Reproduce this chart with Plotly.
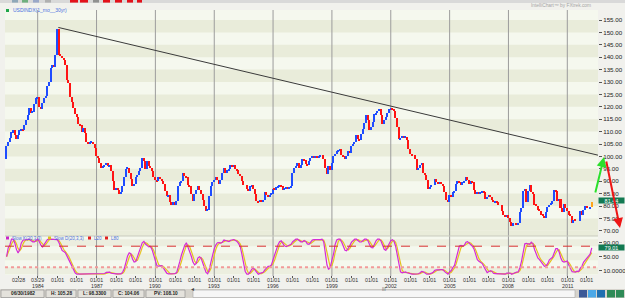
import plotly.graph_objects as go
import pandas as pd
import numpy as np
from datetime import datetime

W, H = 625, 298

# ---------------- data ----------------
title_text = "USDINDX(1_mo__30yr)"
first_open = 99.0
closes_1982 = [104.06, 106.0, 107.5, 109.8, 110.6, 108.5, 107.0]
closes_1983 = [108.5, 110.5, 111.0, 110.5, 112.5, 114.5, 116.5, 119.5, 117.5, 118.0, 121.0, 123.5]
closes_1984 = [124.0, 120.0, 119.0, 121.5, 123.5, 124.5, 128.5, 130.0, 135.5, 137.0, 136.0, 141.0]
closes_1985 = [151.5, 141.0, 140.5, 139.5, 139.0, 137.0, 131.0, 129.5, 124.0, 122.0, 119.5, 117.0]
closes_1986 = [116.0, 113.0, 112.5, 110.0, 111.5, 109.5, 106.0, 105.0, 105.5, 106.0, 105.0, 103.5]
closes_1987 = [100.0, 99.5, 97.5, 95.5, 96.0, 96.5, 97.5, 96.0, 96.5, 94.0, 90.0, 86.5]
closes_1988 = [87.0, 86.5, 85.0, 85.5, 88.0, 91.5, 95.0, 95.5, 93.5, 91.0, 88.0, 89.0]
closes_1989 = [91.5, 92.5, 94.0, 95.5, 99.5, 98.0, 95.0, 98.0, 96.0, 95.5, 94.0, 91.5]
closes_1990 = [90.5, 90.0, 91.5, 91.0, 90.0, 89.0, 86.0, 84.0, 84.5, 81.5, 80.5, 81.5]
closes_1991 = [80.5, 82.0, 88.0, 89.5, 90.0, 93.5, 92.0, 91.5, 88.5, 88.0, 85.0, 82.0]
closes_1992 = [85.0, 86.5, 88.0, 86.5, 85.0, 82.5, 80.0, 78.0, 78.5, 84.0, 88.0, 89.5]
closes_1993 = [90.5, 91.5, 90.5, 89.0, 90.5, 93.5, 95.5, 93.5, 94.5, 95.0, 96.5, 96.0]
closes_1994 = [96.5, 95.0, 94.5, 93.0, 92.0, 90.0, 88.5, 88.5, 87.0, 86.0, 88.0, 88.5]
closes_1995 = [87.0, 85.0, 82.0, 81.5, 82.5, 82.0, 82.5, 85.5, 84.5, 84.0, 84.5, 85.0]
closes_1996 = [87.0, 86.5, 87.5, 88.0, 88.5, 88.0, 86.5, 87.0, 87.5, 87.0, 87.5, 88.0]
closes_1997 = [93.5, 95.5, 96.0, 97.5, 95.5, 96.5, 99.0, 98.5, 97.0, 96.5, 98.0, 99.5]
closes_1998 = [100.0, 99.5, 100.0, 99.5, 100.0, 100.5, 100.5, 99.0, 95.5, 93.0, 96.0, 94.5]
closes_1999 = [97.5, 100.0, 101.0, 102.0, 102.5, 103.0, 100.5, 100.0, 99.0, 100.0, 102.0, 101.5]
closes_2000 = [104.0, 105.0, 106.0, 108.5, 107.0, 106.5, 109.0, 111.0, 113.5, 116.5, 114.5, 110.5]
closes_2001 = [112.0, 114.0, 117.0, 117.5, 118.5, 119.0, 116.5, 113.0, 114.5, 116.0, 117.5, 119.0]
closes_2002 = [119.5, 119.0, 118.5, 115.5, 112.0, 107.0, 107.5, 108.0, 107.5, 108.0, 106.5, 103.0]
closes_2003 = [101.0, 100.5, 100.5, 99.0, 94.5, 95.5, 96.5, 97.5, 93.5, 92.5, 90.5, 87.0]
closes_2004 = [87.5, 88.5, 88.5, 91.0, 89.5, 89.0, 89.5, 89.0, 88.0, 85.5, 82.5, 81.5]
closes_2005 = [84.5, 83.5, 85.5, 86.0, 89.0, 90.0, 89.5, 88.5, 89.5, 90.0, 91.5, 90.5]
closes_2006 = [89.0, 90.0, 89.5, 86.5, 85.0, 85.5, 85.0, 85.5, 86.0, 85.5, 83.0, 83.5]
closes_2007 = [84.5, 83.5, 82.5, 81.5, 82.0, 81.5, 80.5, 80.5, 78.0, 76.5, 75.5, 76.5]
closes_2008 = [75.0, 73.5, 72.0, 73.0, 73.0, 72.5, 73.0, 77.5, 79.0, 86.0, 87.0, 81.5]
closes_2009 = [86.0, 88.5, 85.5, 85.0, 80.5, 80.0, 78.5, 78.0, 76.5, 76.0, 75.0, 77.5]
closes_2010 = [79.5, 80.5, 81.0, 82.0, 86.5, 86.0, 82.0, 83.0, 79.0, 77.5, 81.0, 79.0]
closes_2011 = [78.0, 76.5, 76.0, 73.0, 74.5, 74.0, 74.0, 74.0, 78.0, 76.5, 78.5, 80.0]
closes_2012 = [79.0, 79.0, 79.5, 81.44]

price_ticks = list(range(70, 156, 5))
stoch_ticks = [10, 50, 90]
stoch_tick_text = ["10.0000", "50.00", "90.00"]
x_tick_years = list(range(1983, 2013))
year_label_years = list(range(1984, 2012, 3))
first_tick_texts = ["02/28", "03/29"]
trend_dates = ["1985-01-20", "2012-07-25"]
trend_values = [152.0, 100.5]
last_price_label = "81.44"
last_price_value = 81.44
last_stoch_label = "79.01"
last_stoch_value = 79.01
status_items = ["06/30/1982", "H: 105.28", "L: 98.3300", "C: 104.06", "PV: 108.10"]
level_low, level_high = 20, 80
legend_items = ["Slow K(20,3,3)", "Slow D(20,3,3)", "L20", "L80"]
watermark = "IntelliChart\u2122 by FXtrek.com"

# ---------------- derived series ----------------
closes = (closes_1982 + closes_1983 + closes_1984 + closes_1985 + closes_1986 + closes_1987 +
          closes_1988 + closes_1989 + closes_1990 + closes_1991 + closes_1992 + closes_1993 +
          closes_1994 + closes_1995 + closes_1996 + closes_1997 + closes_1998 + closes_1999 +
          closes_2000 + closes_2001 + closes_2002 + closes_2003 + closes_2004 + closes_2005 +
          closes_2006 + closes_2007 + closes_2008 + closes_2009 + closes_2010 + closes_2011 +
          closes_2012)
dates = pd.date_range("1982-06-01", periods=len(closes), freq="MS")
opens = [first_open] + closes[:-1]
c = pd.Series(closes, dtype=float)
hh = c.rolling(20, min_periods=1).max()
ll = c.rolling(20, min_periods=1).min()
raw_k = (100 * (c - ll) / (hh - ll).replace(0, np.nan)).fillna(50)
slow_k = raw_k.rolling(3, min_periods=1).mean()
slow_d = slow_k.rolling(3, min_periods=1).mean()

# ---------------- geometry helpers ----------------
def fx(px):
    return px / W

def fy(py):
    return 1 - py / H

def frac_year_to_date(v):
    y = int(v)
    d0, d1 = datetime(y, 1, 1), datetime(y + 1, 1, 1)
    return d0 + (d1 - d0) * (v - y)

PLOT_L, PLOT_R = 5, 598
MAIN_T, MAIN_B = 10, 236
LOW_T, LOW_B = 236, 275
px_per_year, x1984 = 19.615, 37.7

def px_to_year(px):
    return 1984 + (px - x1984) / px_per_year

x_range = [frac_year_to_date(px_to_year(PLOT_L)), frac_year_to_date(px_to_year(PLOT_R))]
main_range = [155 - (MAIN_B - 20) / 2.48, 155 - (MAIN_T - 20) / 2.48]
low_range = [(274.2 - LOW_B) / 0.35, (274.2 - LOW_T) / 0.35]

fig = go.Figure()

colors = ["#1E4CFF" if cl >= op else "#FF1414" for op, cl in zip(opens, closes)]
colors[-1] = "#FFA41C"
fig.add_trace(go.Bar(
    x=dates, y=[abs(cl - op) for op, cl in zip(opens, closes)],
    base=[min(op, cl) for op, cl in zip(opens, closes)],
    marker=dict(color=colors, line=dict(width=0)),
    width=28 * 86400000, xaxis="x", yaxis="y", showlegend=False, hoverinfo="skip"))

fig.add_trace(go.Scatter(x=dates, y=slow_d, mode="lines", line=dict(color="#E6C21E", width=1.2),
                         xaxis="x2", yaxis="y2", showlegend=False, hoverinfo="skip"))
fig.add_trace(go.Scatter(x=dates, y=slow_k, mode="lines", line=dict(color="#D52BD5", width=1.2),
                         xaxis="x2", yaxis="y2", showlegend=False, hoverinfo="skip"))

shapes = []
for lo in range(70, 155, 10):
    shapes.append(dict(type="rect", xref="paper", yref="y", x0=fx(PLOT_L), x1=fx(PLOT_R),
                       y0=lo, y1=lo + 5, fillcolor="#E9ECDA", line=dict(width=0), layer="below"))
shapes.append(dict(type="rect", xref="paper", yref="y", x0=fx(PLOT_L), x1=fx(PLOT_R),
                   y0=main_range[0], y1=70, fillcolor="#E9ECDA", line=dict(width=0), layer="below"))
for lo in [0, 40, 80]:
    shapes.append(dict(type="rect", xref="paper", yref="y2", x0=fx(PLOT_L), x1=fx(PLOT_R),
                       y0=lo, y1=lo + 20, fillcolor="#ECEEDF", line=dict(width=0), layer="below"))
for yr in year_label_years:
    shapes.append(dict(type="line", xref="x", yref="paper", x0=datetime(yr, 1, 1), x1=datetime(yr, 1, 1),
                       y0=fy(276), y1=fy(MAIN_T), line=dict(color="#9C9C9C", width=1), layer="below"))
shapes.append(dict(type="line", xref="paper", yref="paper", x0=fx(PLOT_L), x1=fx(PLOT_R),
                   y0=fy(LOW_T), y1=fy(LOW_T), line=dict(color="#C9CBBE", width=1)))
shapes.append(dict(type="line", xref="x", yref="y", x0=trend_dates[0], x1=trend_dates[1],
                   y0=trend_values[0], y1=trend_values[1], line=dict(color="#3A3A3A", width=1)))
shapes.append(dict(type="line", xref="paper", yref="y2", x0=fx(PLOT_L), x1=fx(PLOT_R),
                   y0=level_high, y1=level_high, line=dict(color="#D93030", width=1, dash="dash")))
shapes.append(dict(type="line", xref="paper", yref="y2", x0=fx(PLOT_L), x1=fx(PLOT_R),
                   y0=level_low, y1=level_low, line=dict(color="#F29A9A", width=2, dash="dot")))

shapes.append(dict(type="rect", xref="paper", yref="paper", x0=0, x1=1, y0=fy(3), y1=1,
                   fillcolor="#D9D9D9", line=dict(width=0)))
for a, b in [(70, 78), (80, 88), (103, 110), (115, 122), (127, 133), (137, 142)]:
    shapes.append(dict(type="rect", xref="paper", yref="paper", x0=fx(a), x1=fx(b), y0=fy(2.6), y1=1,
                       fillcolor="#E3101A", line=dict(width=0)))
for a, b, col in [(12, 18, "#8FA8B8"), (22, 28, "#6FAF7F"), (33, 39, "#9AA8C8"), (45, 51, "#B0B0B0"), (93, 99, "#909090")]:
    shapes.append(dict(type="rect", xref="paper", yref="paper", x0=fx(a), x1=fx(b), y0=fy(2.6), y1=1,
                       fillcolor=col, line=dict(width=0)))
shapes.append(dict(type="rect", xref="paper", yref="paper", x0=fx(6), x1=fx(9), y0=fy(12), y1=fy(9),
                   fillcolor="#1FA64A", line=dict(width=0)))
for xs, col in [(6, "#C824C8"), (48, "#E0C020"), (88, "#E02020"), (105, "#E02020")]:
    shapes.append(dict(type="rect", xref="paper", yref="paper", x0=fx(xs), x1=fx(xs + 3), y0=fy(239.5),
                       y1=fy(236.5), fillcolor=col, line=dict(width=0)))

shapes.append(dict(type="rect", xref="paper", yref="paper", x0=0, x1=1, y0=0, y1=fy(289),
                   fillcolor="#D6D3CC", line=dict(width=0)))
box_edges = [(1, 44), (46, 76), (78, 111), (113, 144), (146, 185)]
for a, b in box_edges:
    shapes.append(dict(type="rect", xref="paper", yref="paper", x0=fx(a), x1=fx(b), y0=fy(297.5),
                       y1=fy(290), fillcolor="#E4E2DC", line=dict(color="#8C8C8C", width=0.6)))
shapes.append(dict(type="rect", xref="paper", yref="paper", x0=fx(193), x1=fx(575), y0=fy(297.5),
                   y1=fy(290), fillcolor="#F6F6F6", line=dict(color="#A8A8A8", width=0.6)))
for a, col in [(579, "#3B5998"), (588, "#4AA8E8"), (597, "#1F6FB0"), (607, "#2E8B57"), (616, "#2E8B57")]:
    shapes.append(dict(type="rect", xref="paper", yref="paper", x0=fx(a), x1=fx(a + 8), y0=fy(297.5),
                       y1=fy(290), fillcolor=col, line=dict(width=0)))

ann = []
FONT = "Liberation Sans, Arial, sans-serif"
ann.append(dict(text=title_text, x=fx(11), y=fy(10.5), xref="paper", yref="paper", xanchor="left",
                yanchor="middle", showarrow=False, font=dict(family=FONT, size=5, color="#4A6FE0")))
ann.append(dict(text=watermark, x=fx(593), y=fy(5.5), xref="paper", yref="paper", xanchor="right",
                yanchor="middle", showarrow=False, font=dict(family=FONT, size=4.8, color="#A5A5A5")))
for xs, t in zip([10, 52, 92, 109], legend_items):
    ann.append(dict(text=t, x=fx(xs), y=fy(238), xref="paper", yref="paper", xanchor="left",
                    yanchor="middle", showarrow=False, font=dict(family=FONT, size=4.5, color="#4A6FE0")))
for (a, b), t in zip(box_edges, status_items):
    ann.append(dict(text="<b>" + t + "</b>", x=fx((a + b) / 2), y=fy(293.8), xref="paper", yref="paper",
                    xanchor="center", yanchor="middle", showarrow=False,
                    font=dict(family=FONT, size=4.8, color="#222")))
ann.append(dict(text="\u25c2", x=fx(189), y=fy(293.8), xref="paper", yref="paper", showarrow=False,
                font=dict(family=FONT, size=5.5, color="#444")))
ann.append(dict(text="III", x=fx(384), y=fy(293.8), xref="paper", yref="paper", showarrow=False,
                font=dict(family=FONT, size=4.5, color="#666")))
ann.append(dict(text=last_price_label, x=fx(598), y=last_price_value, xref="paper", yref="y",
                xanchor="left", yanchor="middle", showarrow=False, bgcolor="#137A52", width=25, height=5,
                borderpad=0, yshift=1.8, font=dict(family=FONT, size=5.5, color="#FFFFFF")))
ann.append(dict(text=last_stoch_label, x=fx(598), y=last_stoch_value, xref="paper", yref="y2",
                xanchor="left", yanchor="middle", showarrow=False, bgcolor="#137A52", width=25, height=5,
                borderpad=0, yshift=-1.2, font=dict(family=FONT, size=5.5, color="#FFFFFF")))
ann.append(dict(text="", x=fx(604), y=fy(157), xref="paper", yref="paper", ax=-9, ay=37,
                showarrow=True, arrowhead=2, arrowsize=1, arrowwidth=2, arrowcolor="#2BE02B"))
ann.append(dict(text="", x=fx(620), y=fy(228), xref="paper", yref="paper", ax=-14, ay=-68,
                showarrow=True, arrowhead=2, arrowsize=1, arrowwidth=2, arrowcolor="#EE1515"))

for yr in x_tick_years:
    if yr == 1983:
        t1 = first_tick_texts[0]
    elif yr == 1984:
        t1 = first_tick_texts[1]
    else:
        t1 = "01/01"
    ann.append(dict(text=t1, x=datetime(yr, 1, 1), y=fy(280), xref="x2", yref="paper",
                    xanchor="center", yanchor="middle", showarrow=False,
                    font=dict(family=FONT, size=5.3, color="#333")))
    if yr in year_label_years:
        ann.append(dict(text=str(yr), x=datetime(yr, 1, 1), y=fy(285.6), xref="x2", yref="paper",
                        xanchor="center", yanchor="middle", showarrow=False,
                        font=dict(family=FONT, size=5.3, color="#333")))

fig.update_layout(
    width=W, height=H, autosize=False, margin=dict(l=0, r=0, t=0, b=0),
    paper_bgcolor="#F1F1ED", plot_bgcolor="#F5F8EE", showlegend=False, bargap=0,
    shapes=shapes, annotations=ann,
    xaxis=dict(domain=[fx(PLOT_L), fx(PLOT_R)], range=x_range, anchor="y", type="date",
               showticklabels=False, ticks="", showgrid=False, zeroline=False,
               rangeslider=dict(visible=False)),
    yaxis=dict(domain=[fy(MAIN_B), fy(MAIN_T)], range=main_range, anchor="x", side="right",
               tickvals=price_ticks, ticktext=["%.2f" % v for v in price_ticks],
               ticks="outside", ticklen=3, tickcolor="#555", showgrid=False, zeroline=False,
               tickfont=dict(family=FONT, size=6.2, color="#222")),
    xaxis2=dict(domain=[fx(PLOT_L), fx(PLOT_R)], range=x_range, anchor="y2", type="date", matches="x",
                tickvals=[datetime(y, 1, 1) for y in x_tick_years], showticklabels=False,
                ticks="outside", ticklen=2, tickcolor="#555", showgrid=False, zeroline=False),
    yaxis2=dict(domain=[fy(LOW_B), fy(LOW_T)], range=low_range, anchor="x2", side="right",
                tickvals=stoch_ticks, ticktext=stoch_tick_text, ticks="outside", ticklen=3,
                tickcolor="#555", showgrid=False, zeroline=False,
                tickfont=dict(family=FONT, size=6.2, color="#222")),
)

fig.write_html("out.html", config={"displayModeBar": False})
